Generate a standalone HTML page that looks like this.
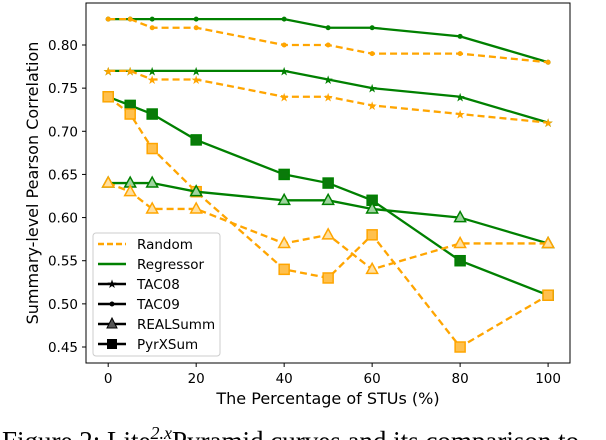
<!DOCTYPE html>
<html><head><meta charset="utf-8"><style>
html,body{margin:0;padding:0;background:#fff;width:606px;height:440px;overflow:hidden}
svg text{font-family:"DejaVu Sans","Liberation Sans",sans-serif}
</style></head><body>
<svg id="chart" width="606" height="440" xmlns="http://www.w3.org/2000/svg">
<rect x="86" y="3" width="484" height="360" fill="none" stroke="#000" stroke-width="1"/>
<g id="grid"></g>
<g id="series"></g>
<text x="328" y="404" font-size="16" text-anchor="middle">The Percentage of STUs (%)</text>
<text transform="translate(38,183) rotate(-90)" font-size="16" text-anchor="middle">Summary-level Pearson Correlation</text>
<g>
<rect x="93" y="233" width="127" height="123" rx="3" fill="#fff" fill-opacity="0.85" stroke="#ccc"/>
<line x1="98" y1="244" x2="126" y2="244" stroke="#ffa500" stroke-width="2.5" stroke-dasharray="6,3"/>
<text x="137" y="249" font-size="13.5">Random</text>
<line x1="98" y1="264" x2="126" y2="264" stroke="#008000" stroke-width="2.5"/>
<text x="137" y="269" font-size="13.5">Regressor</text>
<line x1="98" y1="284" x2="126" y2="284" stroke="#000" stroke-width="2.5"/>
<text x="112" y="288" font-size="12" text-anchor="middle">★</text>
<text x="137" y="289" font-size="13.5">TAC08</text>
<line x1="98" y1="304" x2="126" y2="304" stroke="#000" stroke-width="2.5"/>
<circle cx="112" cy="304" r="2.5" fill="#000"/>
<text x="137" y="309" font-size="13.5">TAC09</text>
<line x1="98" y1="324" x2="126" y2="324" stroke="#000" stroke-width="2.5"/>
<polygon points="112,318 117,328 107,328" fill="#555" stroke="#000"/>
<text x="137" y="329" font-size="13.5">REALSumm</text>
<line x1="98" y1="344" x2="126" y2="344" stroke="#000" stroke-width="2.5"/>
<rect x="107" y="339" width="10" height="10" fill="#000"/>
<text x="137" y="349" font-size="13.5">PyrXSum</text>
</g>
<text x="2" y="450" font-size="27" style="font-family:'Liberation Serif',serif">Figure 2: Lite<tspan font-size="18" dy="-11" font-style="italic">2.x</tspan><tspan dy="11">Pyramid curves and its comparison to</tspan></text>
</svg>
<script>
const xs=[0,5,10,20,40,50,60,80,100];
const xTicks=[0,20,40,60,80,100];
const yTicks=[0.45,0.50,0.55,0.60,0.65,0.70,0.75,0.80];
const tac09Reg=[0.83,0.83,0.83,0.83,0.83,0.82,0.82,0.81,0.78];
const tac09Rand=[0.83,0.83,0.82,0.82,0.80,0.80,0.79,0.79,0.78];
const tac08Reg=[0.77,0.77,0.77,0.77,0.77,0.76,0.75,0.74,0.71];
const tac08Rand=[0.77,0.77,0.76,0.76,0.74,0.74,0.73,0.72,0.71];
const pyrReg=[0.74,0.73,0.72,0.69,0.65,0.64,0.62,0.55,0.51];
const pyrRand=[0.74,0.72,0.68,0.63,0.54,0.53,0.58,0.45,0.51];
const realReg=[0.64,0.64,0.64,0.63,0.62,0.62,0.61,0.60,0.57];
const realRand=[0.64,0.63,0.61,0.61,0.57,0.58,0.54,0.57,0.57];

const NS="http://www.w3.org/2000/svg";
const X=v=>108.2+(v-0)*(548.1-108.2)/100;
const Y=v=>45+(0.80-v)*(347-45)/0.35;
function mk(tag,attrs,parent){const e=document.createElementNS(NS,tag);for(const k in attrs)e.setAttribute(k,attrs[k]);parent.appendChild(e);return e;}
const grid=document.getElementById('grid');
xTicks.forEach(t=>{
  const l=mk('line',{x1:X(t),x2:X(t),y1:363,y2:367,stroke:'#000'},grid);
  
  
  const tx=mk('text',{x:X(t),y:383,'font-size':13.5,'text-anchor':'middle'},grid);tx.textContent=t;
  
  
});
yTicks.forEach(t=>{
  const l=mk('line',{x1:82,x2:86,y1:Y(t),y2:Y(t),stroke:'#000'},grid);
  
  
  const tx=mk('text',{x:78,y:Y(t)+5,'font-size':13.5,'text-anchor':'end'},grid);tx.textContent=t.toFixed(2);
  
  
});
const S=document.getElementById('series');
function marker(g,type,x,y,color,fill){
  let m;
  if(type==='circle')m=mk('circle',{cx:x,cy:y,r:2.5,fill:color},g);
  else if(type==='star'){m=mk('text',{x:x,y:y+4.5,'font-size':12,'text-anchor':'middle',fill:color},g);m.textContent='★';}
  else if(type==='tri')m=mk('polygon',{points:`${x},${y-6} ${x+5.5},${y+4} ${x-5.5},${y+4}`,fill:fill,stroke:color,'stroke-width':1.5},g);
  else m=mk('rect',{x:x-5,y:y-5,width:10,height:10,fill:fill,stroke:color,'stroke-width':1.5},g);
  
  
}
function series(name,vals,color,dash,type,fill){
  const g=mk('g',{},S);
  
  
  const p=mk('polyline',{points:xs.map((x,i)=>X(x)+','+Y(vals[i])).join(' '),fill:'none',stroke:color,'stroke-width':2.3,'stroke-dasharray':dash},g);
  
  
  xs.forEach((x,i)=>marker(g,type,X(x),Y(vals[i]),color,fill));
}
const OR='#ffa500',GR='#008000';
series('tac09-regressor',tac09Reg,GR,'none','circle',GR);
series('tac09-random',tac09Rand,OR,'7,4','circle',OR);
series('tac08-regressor',tac08Reg,GR,'none','star',GR);
series('tac08-random',tac08Rand,OR,'7,4','star',OR);
series('pyrxsum-regressor',pyrReg,GR,'none','square','#0a7a0a');
series('pyrxsum-random',pyrRand,OR,'7,4','square','#ffc04d');
series('realsumm-regressor',realReg,GR,'none','tri','#9fd49f');
series('realsumm-random',realRand,OR,'7,4','tri','#ffe0a0');
</script>
</body></html>
